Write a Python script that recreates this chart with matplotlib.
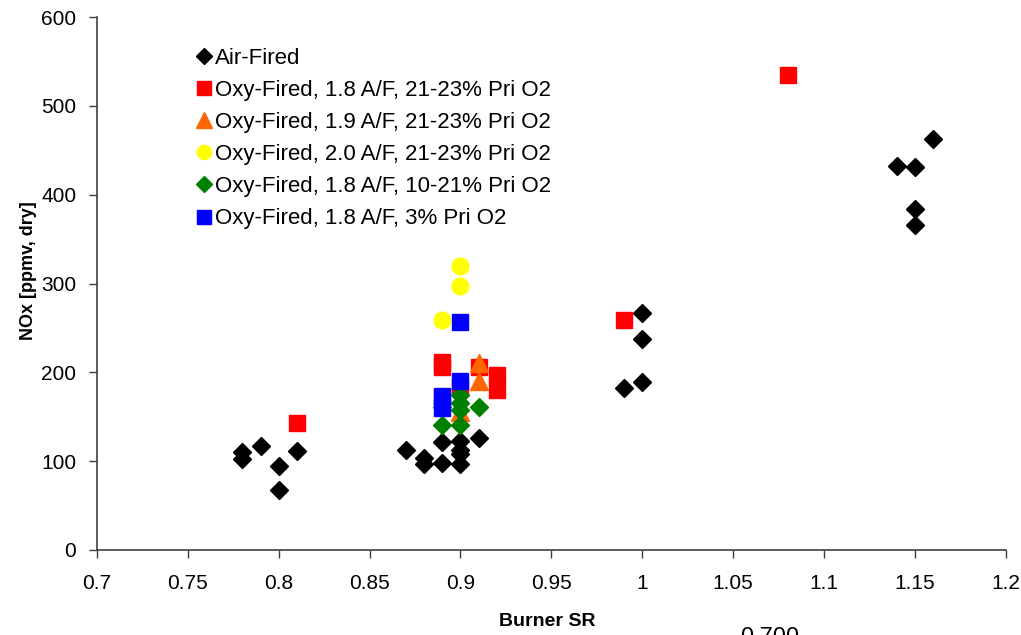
import numpy as np
import matplotlib
matplotlib.use("Agg")
import matplotlib.pyplot as plt

plt.rcParams['font.family'] = ['Liberation Sans', 'DejaVu Sans']

# NOx vs burner stoichiometric ratio
air_x = [0.78, 0.78, 0.79, 0.80, 0.80, 0.81,
         0.87, 0.88, 0.88, 0.89, 0.89, 0.90, 0.90, 0.90, 0.90, 0.91,
         0.99, 1.00, 1.00, 1.00,
         1.14, 1.15, 1.15, 1.15, 1.16]
air_y = [110, 102, 117, 94, 68, 111,
         113, 103, 97, 121, 98, 123, 113, 108, 97, 126,
         182, 267, 237, 189,
         432, 431, 384, 366, 463]

oxy18_x = [0.81, 0.89, 0.89, 0.89, 0.90, 0.91, 0.92, 0.92, 0.99, 1.08]
oxy18_y = [143, 212, 206, 172, 184, 206, 197, 180, 259, 535]

oxy19_x = [0.91, 0.91, 0.90]
oxy19_y = [210, 190, 155]

oxy20_x = [0.89, 0.90, 0.90]
oxy20_y = [259, 320, 297]

oxy18_low_x = [0.90, 0.90, 0.90, 0.90, 0.91, 0.89, 0.89]
oxy18_low_y = [174, 165, 158, 141, 161, 141, 161]

oxy18_3_x = [0.90, 0.90, 0.89, 0.89]
oxy18_3_y = [257, 190, 173, 160]

labels = ["Air-Fired",
          "Oxy-Fired, 1.8 A/F, 21-23% Pri O2",
          "Oxy-Fired, 1.9 A/F, 21-23% Pri O2",
          "Oxy-Fired, 2.0 A/F, 21-23% Pri O2",
          "Oxy-Fired, 1.8 A/F, 10-21% Pri O2",
          "Oxy-Fired, 1.8 A/F, 3% Pri O2"]

fig = plt.figure(figsize=(10.21, 6.35), dpi=100)
ax = fig.add_axes([0.095, 0.134, 0.89, 0.839])

ax.plot(air_x, air_y, 'D', color='black', ms=9, ls='none', label=labels[0])
ax.plot(oxy18_x, oxy18_y, 's', color='#FF0000', ms=12, ls='none', label=labels[1])
ax.plot(oxy19_x, oxy19_y, '^', color='#FF6600', ms=13, ls='none', label=labels[2])
ax.plot(oxy20_x, oxy20_y, 'o', color='#FFFF00', ms=12, ls='none', label=labels[3])
ax.plot(oxy18_low_x, oxy18_low_y, 'D', color='#008000', ms=9, ls='none', label=labels[4])
ax.plot(oxy18_3_x, oxy18_3_y, 's', color='#0000FF', ms=12, ls='none', label=labels[5])

ax.set_xlim(0.7, 1.2)
ax.set_ylim(0, 600)
ax.set_xticks(np.arange(0.7, 1.2001, 0.05))
ax.set_xticklabels(["0.7", "0.75", "0.8", "0.85", "0.9", "0.95", "1", "1.05", "1.1", "1.15", "1.2"])
ax.set_yticks(range(0, 601, 100))
ax.tick_params(labelsize=15, length=6, width=1, color='#404040')
ax.tick_params(axis='x', pad=11)
ax.tick_params(axis='y', pad=9)

for side in ['top', 'right']:
    ax.spines[side].set_visible(False)
for side in ['left', 'bottom']:
    ax.spines[side].set_color('#404040')
    ax.spines[side].set_linewidth(1.2)

ax.set_xlabel("Burner SR", fontsize=14, fontweight='bold')
ax.set_ylabel("NOx [ppmv, dry]", fontsize=13, fontweight='bold')
ax.xaxis.set_label_coords(0.496, -0.118)
ax.yaxis.set_label_coords(-0.066, 0.525)

leg = ax.legend(loc='upper left', bbox_to_anchor=(0.085, 0.98), frameon=False,
                fontsize=16, handletextpad=0.05, handlelength=0.9,
                labelspacing=0.5, markerscale=0.85)

fig.text(770 / 1021, 1 - 627 / 635, "0.700", fontsize=17, ha='center', va='top')

fig.savefig("out.png", dpi=100)
